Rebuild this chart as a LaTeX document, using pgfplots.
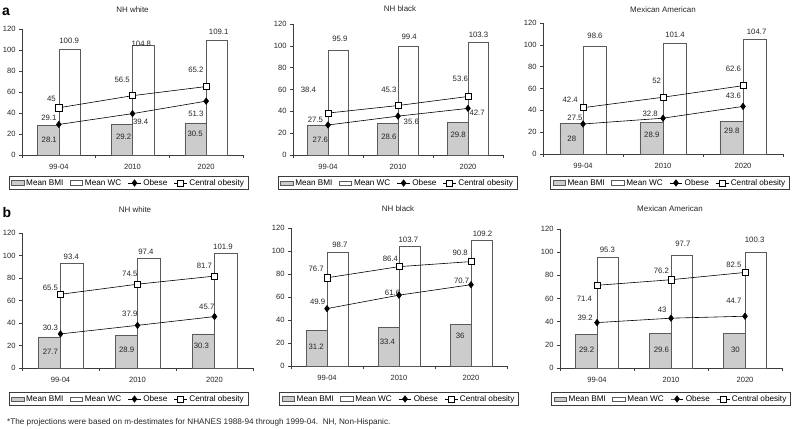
\documentclass[border=0pt]{standalone}
\usepackage{pgfplots}
\pgfplotsset{compat=1.18}
\usepackage{fontspec}
\setmainfont{Liberation Sans}
\definecolor{bmigray}{RGB}{204,204,204}
\definecolor{edgegray}{RGB}{90,90,90}
\definecolor{axgray}{RGB}{60,60,60}
\newcommand{\fs}[1]{\fontsize{#1}{#1}\selectfont}
\tikzset{lbl/.style={font=\fs{7.8}, inner sep=0pt, text=black!85}}
\pgfplotsset{
  panel/.style={
    scale only axis, anchor=south west, clip=false,
    xmin=-0.5, xmax=2.5, ymin=0, ymax=120,
    axis x line*=bottom, axis y line*=left,
    axis line style={draw=axgray, line width=0.6pt},
    xtick={-0.5,0.5,1.5,2.5}, xticklabels={},
    extra x ticks={0,1,2}, extra x tick labels={99-04,2010,2020},
    extra x tick style={tick style={draw=none}, xticklabel style={yshift=-2.5pt}},
    ytick={0,20,...,120},
    tick align=outside, major tick length=3pt,
    tick style={draw=axgray, line width=0.6pt},
    tick label style={font=\fs{7.6}, text=black!85},
    /pgf/number format/assume math mode=true,
    legend columns=4,
    legend style={font=\fs{8.2}, draw=axgray, line width=0.5pt, inner xsep=2pt, inner ysep=1pt, anchor=center,
       /tikz/every even column/.append style={column sep=4.5pt}},
    legend cell align=left,
    legend entries={Mean BMI, Mean WC, Obese, Central obesity},
  },
  bmi/.style={ybar, bar width=0.29, bar shift=-0.145, fill=bmigray, draw=edgegray, line width=0.6pt,
     legend image code/.code={\draw[fill=bmigray, draw=edgegray, line width=0.6pt] (0pt,-2.2pt) rectangle (12.5pt,2.2pt);}},
  wc/.style={ybar, bar width=0.29, bar shift=0.145, fill=white, draw=edgegray, line width=0.6pt,
     legend image code/.code={\draw[fill=white, draw=edgegray, line width=0.6pt] (0pt,-2.2pt) rectangle (12.5pt,2.2pt);}},
  obese/.style={black, line width=0.6pt, mark=diamond*, mark size=3.2pt, mark options={fill=black, solid},
     legend image code/.code={\draw[mark repeat=2,mark phase=2,##1] plot coordinates {(0pt,0pt) (6.5pt,0pt) (13pt,0pt)};}},
  central/.style={black, line width=0.6pt, mark=square*, mark size=3.1pt, mark options={fill=white, draw=black, solid},
     legend image code/.code={\draw[mark repeat=2,mark phase=2,##1] plot coordinates {(0pt,0pt) (6.5pt,0pt) (13pt,0pt)};}},
}
\begin{document}
\begin{tikzpicture}
\useasboundingbox (0,0) rectangle (800bp,429bp);

% ---------- a: NH white
\begin{axis}[panel, at={(22bp,274bp)}, width=221bp, height=126bp,
  legend style={at={(0.482,-0.222)}}]
\addplot[bmi] coordinates {(0,28.1) (1,29.2) (2,30.5)};
\addplot[wc] coordinates {(0,100.9) (1,104.8) (2,109.1)};
\addplot[obese] coordinates {(0,29.1) (1,39.4) (2,51.3)};
\addplot[central] coordinates {(0,45) (1,56.5) (2,65.2)};
\node[lbl] at (axis cs:0.14,109) {100.9};
\node[lbl] at (axis cs:1.12,106) {104.8};
\node[lbl] at (axis cs:2.17,117) {109.1};
\node[lbl] at (axis cs:-0.10,53.5) {45};
\node[lbl] at (axis cs:0.86,71.6) {56.5};
\node[lbl] at (axis cs:1.86,81) {65.2};
\node[lbl] at (axis cs:-0.135,35) {29.1};
\node[lbl] at (axis cs:1.11,32) {39.4};
\node[lbl] at (axis cs:1.86,39) {51.3};
\node[lbl] at (axis cs:-0.13,14) {28.1};
\node[lbl] at (axis cs:0.88,17.5) {29.2};
\node[lbl] at (axis cs:1.85,20) {30.5};
\end{axis}

% ---------- a: NH black
\begin{axis}[panel, at={(293bp,274bp)}, width=210bp, height=131bp,
  legend style={at={(0.498,-0.214)}}]
\addplot[bmi] coordinates {(0,27.6) (1,28.6) (2,29.8)};
\addplot[wc] coordinates {(0,95.9) (1,99.4) (2,103.3)};
\addplot[obese] coordinates {(0,27.5) (1,35.6) (2,42.7)};
\addplot[central] coordinates {(0,38.4) (1,45.3) (2,53.6)};
\node[lbl] at (axis cs:0.17,106) {95.9};
\node[lbl] at (axis cs:1.16,108) {99.4};
\node[lbl] at (axis cs:2.15,110.5) {103.3};
\node[lbl] at (axis cs:-0.28,59.5) {38.4};
\node[lbl] at (axis cs:0.87,59.5) {45.3};
\node[lbl] at (axis cs:1.89,69.6) {53.6};
\node[lbl] at (axis cs:-0.18,32) {27.5};
\node[lbl] at (axis cs:1.19,30.5) {35.6};
\node[lbl] at (axis cs:2.13,39) {42.7};
\node[lbl] at (axis cs:-0.11,14) {27.6};
\node[lbl] at (axis cs:0.87,17) {28.6};
\node[lbl] at (axis cs:1.86,18.3) {29.8};
\end{axis}

% ---------- a: Mexican American
\begin{axis}[panel, at={(543bp,275bp)}, width=240bp, height=131bp,
  legend style={at={(0.529,-0.221)}}]
\addplot[bmi] coordinates {(0,28) (1,28.9) (2,29.8)};
\addplot[wc] coordinates {(0,98.6) (1,101.4) (2,104.7)};
\addplot[obese] coordinates {(0,27.5) (1,32.8) (2,43.6)};
\addplot[central] coordinates {(0,42.4) (1,52) (2,62.6)};
\node[lbl] at (axis cs:0.15,108) {98.6};
\node[lbl] at (axis cs:1.15,109) {101.4};
\node[lbl] at (axis cs:2.17,112) {104.7};
\node[lbl] at (axis cs:-0.16,50) {42.4};
\node[lbl] at (axis cs:0.92,67) {52};
\node[lbl] at (axis cs:1.88,78) {62.6};
\node[lbl] at (axis cs:-0.1,33) {27.5};
\node[lbl] at (axis cs:0.84,37) {32.8};
\node[lbl] at (axis cs:1.88,53) {43.6};
\node[lbl] at (axis cs:-0.14,13.7) {28};
\node[lbl] at (axis cs:0.86,17.7) {28.9};
\node[lbl] at (axis cs:1.86,20.8) {29.8};
\end{axis}

% ---------- b: NH white
\begin{axis}[panel, at={(22bp,61bp)}, width=231bp, height=135bp,
  legend style={at={(0.461,-0.23)}}]
\addplot[bmi] coordinates {(0,27.7) (1,28.9) (2,30.3)};
\addplot[wc] coordinates {(0,93.4) (1,97.4) (2,101.9)};
\addplot[obese] coordinates {(0,30.3) (1,37.9) (2,45.7)};
\addplot[central] coordinates {(0,65.5) (1,74.5) (2,81.7)};
\node[lbl] at (axis cs:0.14,99) {93.4};
\node[lbl] at (axis cs:1.11,103.7) {97.4};
\node[lbl] at (axis cs:2.11,108) {101.9};
\node[lbl] at (axis cs:-0.13,71.7) {65.5};
\node[lbl] at (axis cs:0.9,83.6) {74.5};
\node[lbl] at (axis cs:1.87,91) {81.7};
\node[lbl] at (axis cs:-0.13,36) {30.3};
\node[lbl] at (axis cs:0.9,48) {37.9};
\node[lbl] at (axis cs:1.9,54) {45.7};
\node[lbl] at (axis cs:-0.13,14.2) {27.7};
\node[lbl] at (axis cs:0.86,16.3) {28.9};
\node[lbl] at (axis cs:1.83,20) {30.3};
\end{axis}

% ---------- b: NH black
\begin{axis}[panel, at={(291bp,63bp)}, width=216bp, height=138bp,
  legend style={at={(0.5,-0.239)}}]
\addplot[bmi] coordinates {(0,31.2) (1,33.4) (2,36)};
\addplot[wc] coordinates {(0,98.7) (1,103.7) (2,109.2)};
\addplot[obese] coordinates {(0,49.9) (1,61.6) (2,70.7)};
\addplot[central] coordinates {(0,76.7) (1,86.4) (2,90.8)};
\node[lbl] at (axis cs:0.18,105) {98.7};
\node[lbl] at (axis cs:1.13,110) {103.7};
\node[lbl] at (axis cs:2.16,115) {109.2};
\node[lbl] at (axis cs:-0.15,84.6) {76.7};
\node[lbl] at (axis cs:0.88,93.3) {86.4};
\node[lbl] at (axis cs:1.85,98) {90.8};
\node[lbl] at (axis cs:-0.13,55.5) {49.9};
\node[lbl] at (axis cs:0.91,64) {61.6};
\node[lbl] at (axis cs:1.87,74) {70.7};
\node[lbl] at (axis cs:-0.15,16.9) {31.2};
\node[lbl] at (axis cs:0.84,21) {33.4};
\node[lbl] at (axis cs:1.85,26.5) {36};
\end{axis}

% ---------- b: Mexican American
\begin{axis}[panel, at={(560bp,61bp)}, width=222bp, height=139bp,
  legend style={at={(0.5,-0.223)}}]
\addplot[bmi] coordinates {(0,29.2) (1,29.6) (2,30)};
\addplot[wc] coordinates {(0,95.3) (1,97.7) (2,100.3)};
\addplot[obese] coordinates {(0,39.2) (1,43) (2,44.7)};
\addplot[central] coordinates {(0,71.4) (1,76.2) (2,82.5)};
\node[lbl] at (axis cs:0.14,102) {95.3};
\node[lbl] at (axis cs:1.16,107) {97.7};
\node[lbl] at (axis cs:2.13,110.7) {100.3};
\node[lbl] at (axis cs:-0.17,60) {71.4};
\node[lbl] at (axis cs:0.87,84) {76.2};
\node[lbl] at (axis cs:1.85,89) {82.5};
\node[lbl] at (axis cs:-0.16,43.4) {39.2};
\node[lbl] at (axis cs:0.88,50) {43};
\node[lbl] at (axis cs:1.85,57.8) {44.7};
\node[lbl] at (axis cs:-0.14,15.3) {29.2};
\node[lbl] at (axis cs:0.87,15.3) {29.6};
\node[lbl] at (axis cs:1.87,15.3) {30};
\end{axis}

% titles and panel letters
\node[font=\fs{8}, text=black!85] at (132.5bp,419bp) {NH white};
\node[font=\fs{8}, text=black!85] at (400bp,420bp) {NH black};
\node[font=\fs{8}, text=black!85] at (663bp,419bp) {Mexican American};
\node[font=\fs{8}, text=black!85] at (135bp,219bp) {NH white};
\node[font=\fs{8}, text=black!85] at (398bp,220bp) {NH black};
\node[font=\fs{8}, text=black!85] at (670bp,220bp) {Mexican American};
\node[font=\bfseries\fs{14}] at (6bp,417bp) {a};
\node[font=\bfseries\fs{14}] at (7bp,216bp) {b};
\node[font=\fs{8.2}, anchor=west, inner sep=0pt, text=black!85] at (7bp,7bp)
  {*The projections were based on m-destimates for NHANES 1988-94 through 1999-04.\ \ NH, Non-Hispanic.};
\end{tikzpicture}
\end{document}
